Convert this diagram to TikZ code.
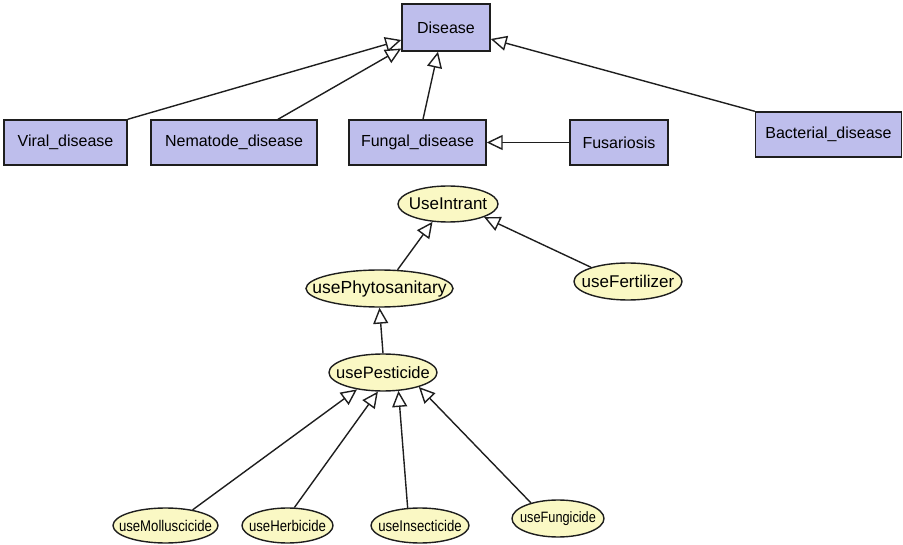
\documentclass[tikz,border=0pt]{standalone}
\usepackage{fontspec}
\setmainfont{Liberation Sans}
\usetikzlibrary{arrows.meta,shapes.geometric}
\definecolor{boxfill}{RGB}{190,190,236}
\definecolor{ellfill}{RGB}{250,248,196}
\definecolor{edgecol}{RGB}{30,30,30}
\tikzset{
  classbox/.style={draw=edgecol, line width=1.4pt, fill=boxfill, inner sep=0pt,
    minimum height=45pt, font=\fontsize{16}{18}\selectfont},
  propell/.style={ellipse, draw=edgecol, line width=1.4pt, fill=ellfill, inner sep=0pt},
  isa/.style={draw=edgecol, line width=1.4pt,
    -{Triangle[open, length=16pt, width=15pt, fill=white]}},
}
\newcommand{\tightlbl}[1]{\makebox[0pt]{#1}}
\newcommand{\narrowlbl}[1]{\makebox[0pt]{\scalebox{0.85}[1]{#1}}}
\begin{document}
\begin{tikzpicture}[x=1pt,y=1pt]
\useasboundingbox (0,0) rectangle (903,-545);
% boxes
\node[classbox, minimum width=88pt, minimum height=47pt] (disease) at (446,-27.5) {Disease};
\node[classbox, minimum width=123pt] (viral) at (65.5,-142.5) {Viral\_disease};
\node[classbox, minimum width=166pt] (nematode) at (234,-142.5) {Nematode\_disease};
\node[classbox, minimum width=137pt] (fungal) at (417.5,-142.5) {Fungal\_disease};
\node[classbox, minimum width=98pt] (fusariosis) at (619,-142.5) {Fusariosis};
\node[classbox, minimum width=146pt] (bacterial) at (828.5,-134.5) {Bacterial\_disease};
% ellipses
\node[propell, minimum width=100pt, minimum height=36pt, font=\fontsize{17}{19}\selectfont] (intrant) at (448,-204) {\tightlbl{UseIntrant}};
\node[propell, minimum width=147pt, minimum height=37pt, font=\fontsize{17.5}{19}\selectfont] (phyto) at (379.5,-288.5) {\tightlbl{usePhytosanitary}};
\node[propell, minimum width=108pt, minimum height=37pt, font=\fontsize{17}{19}\selectfont] (fert) at (628,-281.5) {\tightlbl{useFertilizer}};
\node[propell, minimum width=108pt, minimum height=37pt, font=\fontsize{16.5}{19}\selectfont] (pest) at (383,-372.5) {\tightlbl{usePesticide}};
\node[propell, minimum width=105pt, minimum height=35pt, font=\fontsize{15.5}{17}\selectfont] (mollu) at (165.5,-525.5) {\narrowlbl{useMolluscicide}};
\node[propell, minimum width=91pt, minimum height=35pt, font=\fontsize{15.5}{17}\selectfont] (herb) at (287.5,-525.5) {\narrowlbl{useHerbicide}};
\node[propell, minimum width=98pt, minimum height=35pt, font=\fontsize{15.5}{17}\selectfont] (insect) at (420,-525.5) {\narrowlbl{useInsecticide}};
\node[propell, minimum width=92pt, minimum height=37pt, font=\fontsize{15}{17}\selectfont] (fungi) at (558,-518.5) {\narrowlbl{useFungicide}};
% connectors, top
\draw[isa] (viral.north east) -- ([yshift=-12.5pt]disease.west);
\draw[isa] ([xshift=44pt]nematode.north) -- ([yshift=-21pt]disease.west);
\draw[isa] ([xshift=5.5pt]fungal.north) -- ([xshift=-8pt]disease.south);
\draw[isa] (bacterial.north west) -- ([yshift=-11.5pt]disease.east);
\draw[isa] (fusariosis.west) -- (fungal.east);
% connectors, middle
\draw[isa] (phyto.46) -- (intrant.229);
\draw[isa] (fert.159) -- (intrant.340);
\draw[isa] (pest.north) -- (phyto.south);
% connectors, bottom
\draw[isa] (mollu.30) -- (pest.213);
\draw[isa] (herb.69) -- (pest.255);
\draw[isa] (insect.125) -- (pest.310);
\draw[isa] (fungi.150) -- (pest.338);
\end{tikzpicture}
\end{document}
